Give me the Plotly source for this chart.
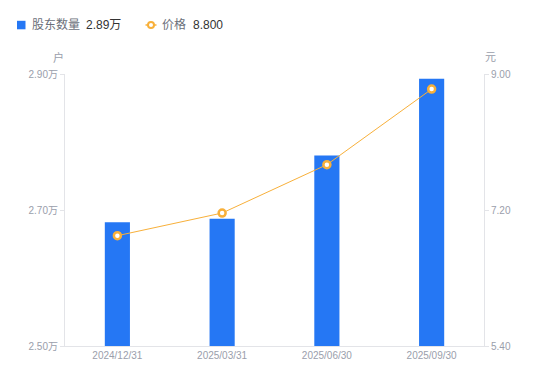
import plotly.graph_objects as go

dates = ["2024/12/31", "2025/03/31", "2025/06/30", "2025/09/30"]
holders = [2.682, 2.687, 2.780, 2.893]   # 万户
price = [6.86, 7.16, 7.80, 8.80]         # 元
left_ticks = [2.50, 2.70, 2.90]
left_tick_text = ["2.50万", "2.70万", "2.90万"]
right_ticks = [5.40, 7.20, 9.00]
right_tick_text = ["5.40", "7.20", "9.00"]
legend_names = ["股东数量", "价格"]
legend_values = ["2.89万", "8.800"]

FONT = "Liberation Sans, Arial, Noto Sans CJK SC, sans-serif"
BLUE = "#2577f4"
ORANGE = "#f8b03a"
AXIS = "#e3e4e8"
TICK = "#9a9eab"
NAME_C = "#6b6f7a"
VAL_C = "#333333"

W, H = 550, 381
ML, MR, MT, MB = 65, 66, 74, 35
PW, PH = W - ML - MR, H - MT - MB


def px(x):
    return (x - ML) / PW


def py(y):
    return (H - MB - y) / PH


fig = go.Figure()
fig.add_trace(go.Bar(
    x=dates, y=holders, width=0.24, marker=dict(color=BLUE, line=dict(width=0)),
    name=legend_names[0], yaxis="y", showlegend=False,
))
fig.add_trace(go.Scatter(
    x=dates, y=price, mode="lines+markers", yaxis="y2",
    line=dict(color=ORANGE, width=1),
    marker=dict(symbol="circle", size=7, color="white", line=dict(color=ORANGE, width=2.5)),
    name=legend_names[1], showlegend=False,
))

ann = [
    dict(text="户", xref="paper", yref="paper", x=px(58.5), y=py(57),
         xanchor="center", yanchor="middle", showarrow=False,
         font=dict(size=11, color=TICK, family=FONT)),
    dict(text="元", xref="paper", yref="paper", x=px(490), y=py(57),
         xanchor="center", yanchor="middle", showarrow=False,
         font=dict(size=11, color=TICK, family=FONT)),
    # legend texts
    dict(text=legend_names[0], xref="paper", yref="paper", x=px(30), y=py(25),
         xanchor="left", yanchor="middle", showarrow=False,
         font=dict(size=12, color=NAME_C, family=FONT)),
    dict(text=legend_values[0], xref="paper", yref="paper", x=px(84), y=py(25),
         xanchor="left", yanchor="middle", showarrow=False,
         font=dict(size=12, color=VAL_C, family=FONT)),
    dict(text=legend_names[1], xref="paper", yref="paper", x=px(160), y=py(25),
         xanchor="left", yanchor="middle", showarrow=False,
         font=dict(size=12, color=NAME_C, family=FONT)),
    dict(text=legend_values[1], xref="paper", yref="paper", x=px(191), y=py(25),
         xanchor="left", yanchor="middle", showarrow=False,
         font=dict(size=12, color=VAL_C, family=FONT)),
]

shapes = [
    dict(type="rect", xref="paper", yref="paper", x0=px(17), x1=px(25.5),
         y0=py(29.3), y1=py(20.8), fillcolor=BLUE, line=dict(width=0)),
    dict(type="line", xref="paper", yref="paper", x0=px(145.5), x1=px(156.5),
         y0=py(25), y1=py(25), line=dict(color=ORANGE, width=1.5)),
    dict(type="circle", xref="paper", yref="paper", x0=px(148), x1=px(154),
         y0=py(28), y1=py(22), fillcolor="white", line=dict(color=ORANGE, width=2)),
]

fig.update_layout(
    width=W, height=H,
    margin=dict(l=ML, r=MR, t=MT, b=MB, autoexpand=False),
    paper_bgcolor="white", plot_bgcolor="white",
    font=dict(family=FONT, size=10, color=TICK),
    showlegend=False,
    hovermode=False,
    xaxis=dict(type="category", showgrid=False, showline=True, linecolor=AXIS,
               linewidth=1, ticks="", tickfont=dict(size=10, color=TICK),
               zeroline=False, automargin=False),
    yaxis=dict(range=[2.50, 2.90], tickvals=left_ticks, ticktext=left_tick_text,
               showgrid=False, showline=True, linecolor=AXIS, linewidth=1,
               ticks="outside", ticklen=4, tickcolor=AXIS, automargin=False,
               tickfont=dict(size=10, color=TICK), zeroline=False),
    yaxis2=dict(range=[5.40, 9.00], tickvals=right_ticks, ticktext=right_tick_text,
                overlaying="y", side="right", showgrid=False, showline=True,
                linecolor=AXIS, linewidth=1, ticks="outside", ticklen=4,
                automargin=False,
                tickcolor=AXIS, tickfont=dict(size=10, color=TICK), zeroline=False),
    annotations=ann,
    shapes=shapes,
)

fig.write_html("out.html", config={"displayModeBar": False},
               post_script="document.body.style.margin='0';document.body.style.overflow='hidden';")
